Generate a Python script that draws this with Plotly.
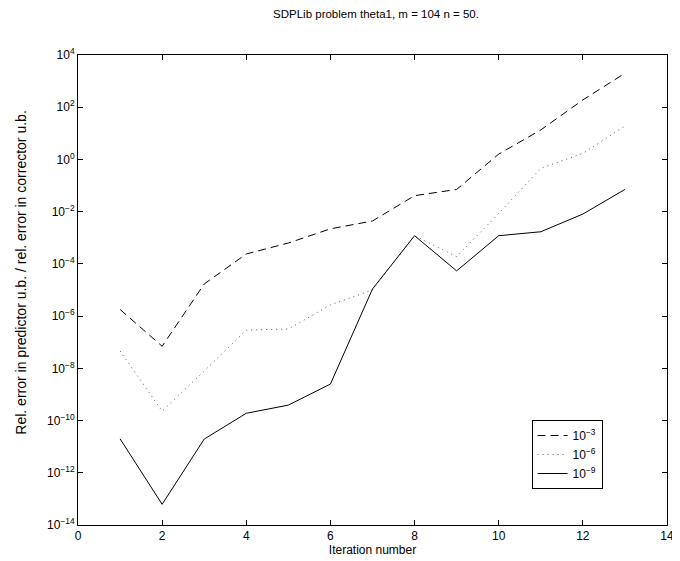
import plotly.graph_objects as go

iterations = list(range(1, 14))
tol_1e3 = [1.8e-6, 7e-8, 1.7e-5, 2.4e-4, 6.3e-4, 2.2e-3, 4.4e-3, 4.1e-2, 7.1e-2, 1.6, 13.5, 190, 2000]
tol_1e6 = [4.6e-8, 2.3e-10, 7.9e-9, 2.9e-7, 3.2e-7, 2.7e-6, 1e-5, 1.2e-3, 1.9e-4, 8.5e-3, 0.46, 1.7, 19]
tol_1e9 = [2.0e-11, 6.2e-14, 1.95e-11, 1.9e-10, 3.9e-10, 2.5e-9, 1.1e-5, 1.2e-3, 5.4e-5, 1.2e-3, 1.7e-3, 8.1e-3, 7.1e-2]
series_names = ["10<sup>−3</sup>", "10<sup>−6</sup>", "10<sup>−9</sup>"]
x_ticks = [0, 2, 4, 6, 8, 10, 12, 14]
y_exps = [4, 2, 0, -2, -4, -6, -8, -10, -12, -14]
title_text = "SDPLib problem theta1, m = 104 n = 50."
xlabel_text = "Iteration number"
ylabel_text = "Rel. error in predictor u.b. / rel. error in corrector u.b."

font = "Liberation Sans, Arial, Helvetica, sans-serif"

# page body has an 8px margin: the figure is sized and padded to land on the reference pixels
L, R, T, B = 70, 6, 47, 36
W, H = 672, 553
plot_w = W - L - R
plot_h = H - T - B

fig = go.Figure()
fig.add_trace(go.Scatter(x=iterations, y=tol_1e3, mode="lines", name=series_names[0],
                         line=dict(color="black", width=1, dash="8px,5px")))
fig.add_trace(go.Scatter(x=iterations, y=tol_1e6, mode="lines", name=series_names[1],
                         line=dict(color="#555555", width=1, dash="1px,4px")))
fig.add_trace(go.Scatter(x=iterations, y=tol_1e9, mode="lines", name=series_names[2],
                         line=dict(color="black", width=1)))

fig.update_layout(
    width=W, height=H,
    margin=dict(l=L, r=R, t=T, b=B),
    paper_bgcolor="white", plot_bgcolor="white",
    font=dict(family=font, size=12, color="black"),
    title=dict(text=title_text, x=(L + plot_w / 2) / W, xanchor="center",
               y=1 - 6 / H, yanchor="middle", font=dict(size=11.5)),
    showlegend=True,
    legend=dict(x=(537 - 78) / plot_w, y=(525 - 420) / plot_h, xanchor="left", yanchor="top",
                bordercolor="black", borderwidth=1, bgcolor="white", font=dict(size=12),
                tracegroupgap=0, itemwidth=30),
    annotations=[dict(text=ylabel_text, textangle=-90, xref="paper", yref="paper",
                      x=-(78 - 20) / plot_w, y=(525 - 273) / plot_h, xanchor="center", yanchor="middle",
                      showarrow=False, font=dict(size=14))],
)
fig.update_xaxes(range=[0, 14], tickvals=x_ticks, ticktext=[str(v) for v in x_ticks],
                 ticks="inside", ticklen=5, tickcolor="black", showline=True, linecolor="black",
                 linewidth=1, mirror="ticks", showgrid=False, zeroline=False,
                 ticklabeloverflow="allow",
                 title=dict(text=xlabel_text, standoff=3, font=dict(size=12)))
fig.update_yaxes(type="log", range=[-14, 4], tickvals=[10.0 ** e for e in y_exps],
                 ticktext=["10<sup>%s</sup>" % (str(e) if e >= 0 else "−" + str(-e)) for e in y_exps],
                 ticks="inside", ticklen=5, tickcolor="black", showline=True, linecolor="black",
                 linewidth=1, mirror="ticks", showgrid=False, zeroline=False)

fig.write_html("out.html")
